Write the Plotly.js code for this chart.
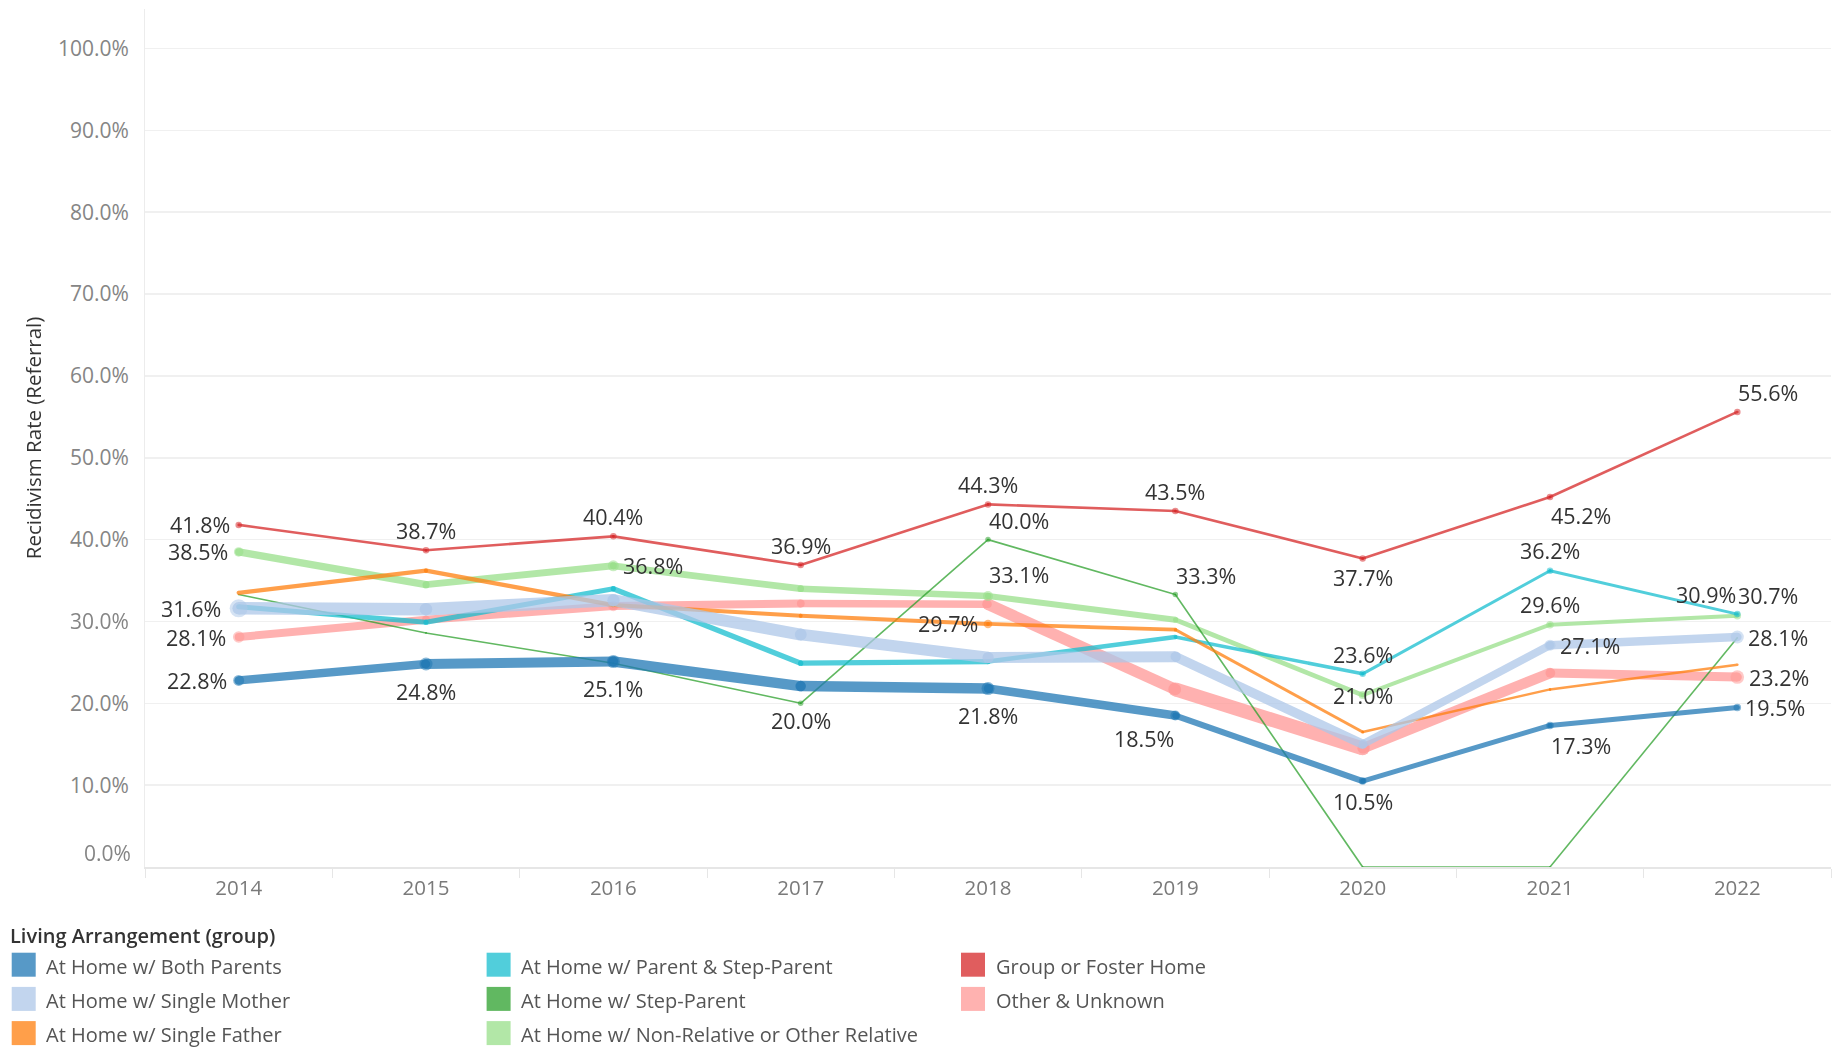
<!DOCTYPE html>
<html>
<head>
<meta charset="utf-8">
<script src="https://cdn.plot.ly/plotly-3.0.1.min.js"></script>
<style>
  html, body { margin: 0; padding: 0; background: #ffffff; }
  #chart { width: 1843px; height: 1047px; }
</style>
</head>
<body>
<div id="chart"></div>
<script>
// ---------------- DATA ----------------
const years = ['2014', '2015', '2016', '2017', '2018', '2019', '2020', '2021', '2022'];

const seriesNames = [
  'At Home w/ Both Parents',
  'At Home w/ Single Mother',
  'At Home w/ Single Father',
  'At Home w/ Parent & Step-Parent',
  'At Home w/ Step-Parent',
  'At Home w/ Non-Relative or Other Relative',
  'Group or Foster Home',
  'Other & Unknown'
];

const bothParents      = [22.8, 24.8, 25.1, 22.1, 21.8, 18.5, 10.5, 17.3, 19.5];
const singleMother     = [31.6, 31.5, 32.6, 28.4, 25.6, 25.7, 15.0, 27.1, 28.1];
const singleFather     = [33.5, 36.2, 32.0, 30.7, 29.7, 29.0, 16.5, 21.7, 24.7];
const parentStepParent = [31.8, 29.9, 34.0, 24.9, 25.1, 28.1, 23.6, 36.2, 30.9];
const stepParent       = [33.3, 28.6, 24.9, 20.0, 40.0, 33.3, 0.0, 0.0, 28.0];
const nonRelative      = [38.5, 34.5, 36.8, 34.0, 33.1, 30.2, 21.0, 29.6, 30.7];
const groupFoster      = [41.8, 38.7, 40.4, 36.9, 44.3, 43.5, 37.7, 45.2, 55.6];
const otherUnknown     = [28.1, 30.2, 31.9, 32.2, 32.1, 21.7, 14.5, 23.7, 23.2];

const seriesValues = [bothParents, singleMother, singleFather, parentStepParent,
                      stepParent, nonRelative, groupFoster, otherUnknown];

const yTickVals = [10, 20, 30, 40, 50, 60, 70, 80, 90, 100];

// ---------------- STYLE ----------------
const baseColors = ['#1F77B4', '#AEC7E8', '#FF7F0E', '#17BECF', '#2CA02C', '#98DF8A', '#D62728', '#FF9896'];
const markOpacity = 0.75;

// line width at each year (visual size encoding)
const lineWidths = [
  [7, 10, 10, 11, 10, 7, 5, 5, 5],
  [12, 13, 12, 12, 11, 11, 8, 8, 9],
  [4, 4.5, 4, 4, 4, 3.5, 2.5, 2.5, 2.5],
  [5, 5, 5, 5.5, 5, 4, 3, 3, 3],
  [1.6, 1.6, 1.6, 1.6, 1.6, 1.6, 1.6, 1.6, 1.6],
  [7.5, 7, 7, 6.5, 6.5, 5.5, 4, 4, 4],
  [2.6, 2.6, 2.6, 2.6, 2.6, 2.6, 2.6, 2.6, 2.6],
  [8, 8, 8, 8, 7, 16, 12, 9, 9]
];
// dot size at labelled years (null = no dot / no label)
const dotSizes = [
  [11, 13, 13, null, 13, 10, 7.5, 7.5, 7.5],
  [18, null, null, null, null, null, null, 11, 13],
  [null, null, null, null, 8.5, null, null, null, null],
  [null, null, null, null, null, null, 6.5, 6.5, 6.5],
  [null, null, null, 5.5, 5.5, 5.5, null, null, null],
  [9.5, null, 11, null, 10, null, 8, 7.5, 7.5],
  [6.5, 6.5, 6.5, 6.5, 6.5, 6.5, 6.5, 6.5, 6.5],
  [11.5, null, 10.5, null, null, null, null, null, 13.5]
];
// label placement codes
const labelPos = [
  ['L', 'B', 'B', null, 'B', 'BL', 'B', 'BR', 'R'],
  ['L', null, null, null, null, null, null, 'R', 'R'],
  [null, null, null, null, 'L', null, null, null, null],
  [null, null, null, null, null, null, 'T', 'T', 'TL'],
  [null, null, null, 'B', 'TR', 'TR', null, null, null],
  ['L', null, 'R', null, 'TR', null, 'C', 'T', 'TR'],
  ['L', 'T', 'T', 'T', 'T', 'T', 'B', 'BR', 'TR'],
  ['L', null, 'B', null, null, null, null, null, 'R']
];
const drawOrder = [7, 6, 5, 4, 3, 2, 1, 0];

const FONT = "'Open Sans', 'Noto Sans', sans-serif";
const labelFontSize = 21.5;

// layout geometry
const W = 1843, H = 1047;
const M = {l: 145, r: 12, t: 9, b: 180};
const plotW = W - M.l - M.r, plotH = H - M.t - M.b;
const pxX = px => (px - M.l) / plotW;
const pxY = py => (H - M.b - py) / plotH;

function blend(hex, a) {
  const n = parseInt(hex.slice(1), 16);
  const r = (n >> 16) & 255, g = (n >> 8) & 255, b = n & 255;
  const f = c => Math.round(c * a + 255 * (1 - a));
  return 'rgb(' + f(r) + ',' + f(g) + ',' + f(b) + ')';
}

// ---------------- TRACES ----------------
const traces = [];
drawOrder.forEach(k => {
  const vals = seriesValues[k];
  const w = lineWidths[k];
  for (let i = 0; i < years.length - 1; i++) {
    const sw = (w[i] + w[i + 1]) / 2;
    traces.push({
      type: 'scatter', mode: 'lines+markers',
      x: [years[i], years[i + 1]], y: [vals[i], vals[i + 1]],
      line: {color: baseColors[k], width: sw},
      marker: {color: baseColors[k], size: sw, line: {width: 0}},
      opacity: markOpacity, hoverinfo: 'skip', showlegend: false
    });
  }
  const dx = [], dy = [], ds = [];
  dotSizes[k].forEach((s, i) => { if (s) { dx.push(years[i]); dy.push(vals[i]); ds.push(s); } });
  traces.push({
    type: 'scatter', mode: 'markers', x: dx, y: dy,
    marker: {color: baseColors[k], size: ds, line: {width: 0}},
    opacity: markOpacity, name: seriesNames[k], showlegend: false,
    hovertemplate: '%{x}: %{y:.1f}%<extra>' + seriesNames[k] + '</extra>'
  });
});

// ---------------- DATA LABELS (annotations) ----------------
// category axis: annotations use the category index (serial number) on x
const annotations = [];
const fsr = labelFontSize / 20.5;
seriesValues.forEach((vals, k) => {
  labelPos[k].forEach((p, i) => {
    if (!p) return;
    const d = dotSizes[k][i] || 6;
    const gapL = 0.8 * d + 2, gapR = 0.65 * d + 1.5;
    const gapT = 8 + 0.4 * d;           // baseline above point
    const capB = 1.25 * d + 3;          // cap top below point
    const a = {
      x: years.indexOf(years[i]), y: vals[i], xref: 'x', yref: 'y',
      text: vals[i].toFixed(1) + '%', showarrow: false,
      font: {family: FONT, size: labelFontSize, color: '#333333'},
      xanchor: 'center', yanchor: 'middle', xshift: 0, yshift: 0
    };
    if (p[0] === 'T') { a.yanchor = 'bottom'; a.yshift = gapT - 7 * fsr; }
    if (p[0] === 'B') { a.yanchor = 'top'; a.yshift = -(capB - 8.3 * fsr); }
    if (p === 'L') { a.xanchor = 'right'; a.xshift = -(gapL - 1); }
    if (p === 'R') { a.xanchor = 'left'; a.xshift = gapR - 1; }
    if (p === 'TR' || p === 'BR') { a.xanchor = 'left'; a.xshift = -1; }
    if (p === 'TL' || p === 'BL') { a.xanchor = 'right'; a.xshift = 1; }
    annotations.push(a);
  });
});

// 0.0% tick label, nudged up inside the axis as in the original
annotations.push({
  x: 0, xref: 'paper', y: 0, yref: 'y', text: (0).toFixed(1) + '%', showarrow: false,
  xanchor: 'right', yanchor: 'middle', xshift: -12, yshift: 14,
  font: {family: FONT, size: 21, color: '#858585'}
});

// ---------------- LEGEND (manual, column-wise like the original) ----------------
const shapes = [];
const legendCols = [[0, 1, 2], [3, 4, 5], [6, 7]];
const colX = [11.7, 486.6, 961];
const rowY = [964.7, 998.9, 1033.1];
annotations.push({
  x: pxX(8), y: pxY(935), xref: 'paper', yref: 'paper', xanchor: 'left', yanchor: 'middle',
  text: 'Living Arrangement (group)', showarrow: false,
  font: {family: FONT, size: 20, color: '#333333', weight: 600}
});
legendCols.forEach((col, c) => {
  col.forEach((k, r) => {
    shapes.push({
      type: 'rect', xref: 'paper', yref: 'paper',
      x0: pxX(colX[c]), x1: pxX(colX[c] + 24),
      y0: pxY(rowY[r] + 12), y1: pxY(rowY[r] - 12),
      fillcolor: blend(baseColors[k], markOpacity), line: {width: 0}, layer: 'above'
    });
    annotations.push({
      x: pxX(colX[c] + 32.5), y: pxY(rowY[r] + 1.5), xref: 'paper', yref: 'paper',
      xanchor: 'left', yanchor: 'middle', text: seriesNames[k], showarrow: false,
      font: {family: FONT, size: 20, color: '#555555'}
    });
  });
});

// ---------------- LAYOUT ----------------
const layout = {
  width: W, height: H,
  margin: M,
  paper_bgcolor: '#ffffff', plot_bgcolor: '#ffffff',
  showlegend: false,
  font: {family: FONT, color: '#333333'},
  xaxis: {
    type: 'category', categoryarray: years, range: [-0.5, years.length - 0.5],
    showgrid: false, zeroline: false,
    showline: true, linecolor: '#e6e6e6', linewidth: 1.5,
    ticks: 'outside', tickson: 'boundaries', ticklen: 9, tickwidth: 1, tickcolor: '#e6e6e6',
    ticklabelstandoff: 2,
    tickfont: {family: FONT, size: 20.5, color: '#7a7a7a'},
    fixedrange: true
  },
  yaxis: {
    range: [0, 104.83],
    tickvals: yTickVals, ticktext: yTickVals.map(v => v.toFixed(1) + '%'),
    showgrid: true, gridcolor: '#f0f0f0', gridwidth: 1.5, zeroline: false,
    showline: true, linecolor: '#ececec', linewidth: 1,
    ticks: '', ticklabelstandoff: 11,
    tickfont: {family: FONT, size: 21, color: '#858585'},
    title: {text: 'Recidivism Rate (Referral)', standoff: 10,
            font: {family: FONT, size: 20.5, color: '#333333'}},
    fixedrange: true
  },
  annotations: annotations,
  shapes: shapes
};

Plotly.newPlot('chart', traces, layout, {displayModeBar: false, staticPlot: true});
</script>
</body>
</html>
